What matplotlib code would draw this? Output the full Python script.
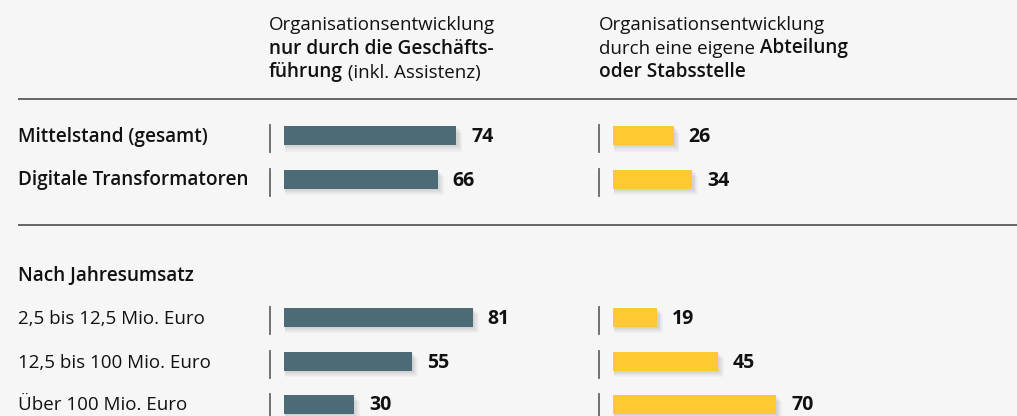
import matplotlib.pyplot as plt
from matplotlib.patches import Rectangle

plt.rcParams['font.family'] = ['Open Sans', 'DejaVu Sans']

# data
categories = ["Mittelstand (gesamt)", "Digitale Transformatoren",
              "2,5 bis 12,5 Mio. Euro", "12,5 bis 100 Mio. Euro", "Über 100 Mio. Euro"]
bold_cats = [True, True, False, False, False]
nur_gf = [74, 66, 81, 55, 30]
abteilung = [26, 34, 19, 45, 70]
section_title = "Nach Jahresumsatz"

# layout (pixels)
W, H = 1017, 416
BG = '#f6f6f6'
SLATE = '#4d6b77'
YELLOW = '#ffca31'
TXT = '#111111'
RULE = '#666666'
row_y = [135.5, 179, 317, 361, 404]
px_per_unit = 2.33
bar_h = 19
FS = 13.5      # regular text
FS_B = 13.7    # semibold text


def style(bold):
    return dict(fontsize=FS_B if bold else FS,
                fontweight='semibold' if bold else 'normal', color=TXT)


fig = plt.figure(figsize=(W / 100, H / 100), dpi=100, facecolor=BG)
ax0 = fig.add_axes([0, 0, 1, 1])
ax0.set_xlim(0, W)
ax0.set_ylim(H, 0)
ax0.axis('off')


def rich_line(x, y, parts):
    t = None
    for s, bold in parts:
        if t is None:
            t = ax0.text(x, y, s, va='baseline', **style(bold))
        else:
            t = ax0.annotate(s, xy=(1, 0), xycoords=t, va='bottom', ha='left', **style(bold))


# column headers
rich_line(269, 30, [("Organisationsentwicklung", False)])
rich_line(269, 53.5, [("nur durch die Geschäfts-", True)])
rich_line(269, 77, [("führung", True), (" (inkl. Assistenz)", False)])
rich_line(599, 30, [("Organisationsentwicklung", False)])
rich_line(599, 53.5, [("durch eine eigene", False), (" Abteilung", True)])
rich_line(599, 77, [("oder Stabsstelle", True)])

# rules
for yy in (99, 224.5):
    ax0.plot([18, W], [yy, yy], color=RULE, lw=1.4, solid_capstyle='butt')

# category labels
for lab, y, b in zip(categories, row_y, bold_cats):
    ax0.text(18, y + 6.5, lab, va='baseline', **style(b))
ax0.text(18, 281, section_title, va='baseline', **style(True))


def bar_panel(left_px, values, color):
    width_px = 360
    ax = fig.add_axes([left_px / W, 0, width_px / W, 1])
    ax.set_xlim(0, width_px / px_per_unit)
    ax.set_ylim(H, 0)
    ax.axis('off')
    ax.patch.set_alpha(0)
    off = 14.5 / px_per_unit
    for v, y in zip(values, row_y):
        # soft shadow
        for k in range(1, 7):
            ax.add_patch(Rectangle((0.5 / px_per_unit, y - bar_h / 2 + k * 1.1),
                                   v + k * 0.9 / px_per_unit, bar_h,
                                   color='#000000', alpha=0.022, lw=0, zorder=1))
        ax.barh(y, v, height=bar_h, color=color, zorder=2)
        ax.plot([-off, -off], [y - 10.5, y + 16.5], color=RULE, lw=1.3, zorder=2,
                clip_on=False)
        ax.text(v + 15 / px_per_unit, y + 6.5, str(v), fontsize=FS + 0.5, fontweight='bold',
                va='baseline', ha='left', color=TXT)
    return ax


bar_panel(284, nur_gf, SLATE)
bar_panel(613, abteilung, YELLOW)

fig.savefig('out.png', dpi=100, facecolor=BG)
